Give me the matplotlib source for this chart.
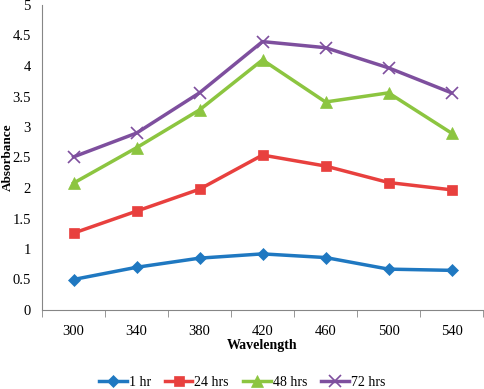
import matplotlib
matplotlib.use("Agg")
import matplotlib.pyplot as plt
import numpy as np

wavelengths = ["300", "340", "380", "420", "460", "500", "540"]
hr1 = [0.50, 0.70, 0.85, 0.92, 0.86, 0.67, 0.65]
hr24 = [1.26, 1.62, 1.98, 2.54, 2.36, 2.09, 1.97]
hr48 = [2.08, 2.66, 3.28, 4.10, 3.41, 3.56, 2.90]
hr72 = [2.51, 2.90, 3.56, 4.40, 4.30, 3.97, 3.56]
labels = ["1 hr", "24 hrs", "48 hrs", "72 hrs"]

plt.rcParams['font.family'] = ['Liberation Serif', 'DejaVu Serif']

fig = plt.figure(figsize=(4.84, 3.89), dpi=100)
ax = fig.add_axes([42/484, (389-310)/389, (483-42)/484, (310-5)/389])

x = np.arange(len(wavelengths))
styles = [
    (hr1, "#1f78c1", "D", 6),
    (hr24, "#e8403e", "s", 7),
    (hr48, "#8cc540", "^", 8),
    (hr72, "#7e4f9e", "x", 8),
]
for (vals, c, m, ms), lab in zip(styles, labels):
    ax.plot(x, vals, color=c, marker=m, markersize=ms, linewidth=2.5,
            label=lab, markeredgewidth=1.2 if m == "x" else 0.5)

ax.set_xlim(-0.5, len(wavelengths) - 0.5)
ax.set_ylim(0, 5)
ax.set_yticks(np.arange(0, 5.01, 0.5))
ax.set_yticklabels(["0", "0.5", "1", "1.5", "2", "2.5", "3", "3.5", "4", "4.5", "5"])
ax.set_xticks(x)
ax.set_xticklabels(wavelengths)
ax.set_xticks(np.arange(-0.5, len(wavelengths)), minor=True)
ax.tick_params(axis='x', which='major', length=0, labelsize=10.5, pad=11)
ax.tick_params(axis='x', which='minor', length=5, color='#868686')
ax.tick_params(axis='y', length=0, labelsize=10.5, pad=8)
for s in ['top', 'right']:
    ax.spines[s].set_visible(False)
for s in ['left', 'bottom']:
    ax.spines[s].set_color('#868686')
ax.set_xlabel("Wavelength", fontsize=10, fontweight='bold')
ax.set_ylabel("Absorbance", fontsize=9.5, fontweight='bold')
ax.yaxis.set_label_coords(-0.063, 0.5)
ax.xaxis.set_label_coords(0.5, -0.095)

fig.legend(loc='center', bbox_to_anchor=(0.5, 1 - 382/389), ncol=4, frameon=False,
           fontsize=10, handlelength=2.0, columnspacing=1.0, handletextpad=0.15)

fig.savefig("out.png", dpi=100)
